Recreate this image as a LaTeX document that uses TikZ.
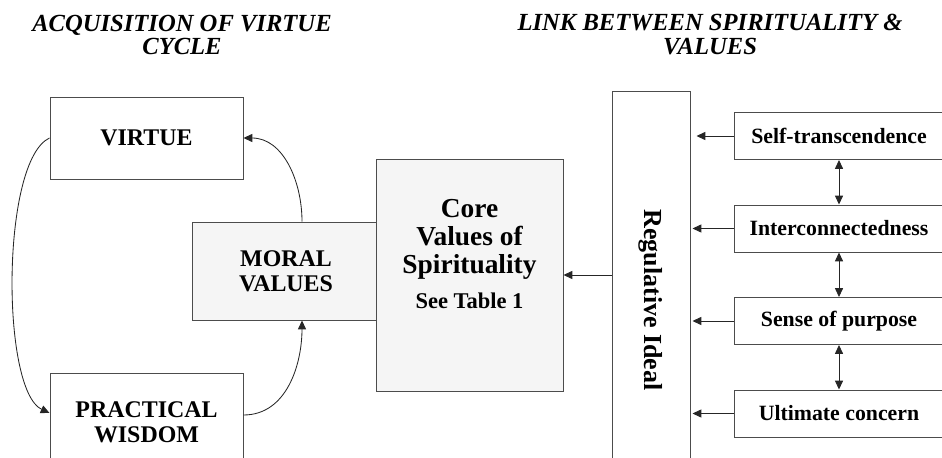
\documentclass[tikz,border=0pt]{standalone}
\usepackage{fontspec}
\usepackage{graphicx}
\setmainfont{Liberation Serif}
\usetikzlibrary{arrows.meta}

\begin{document}
\begin{tikzpicture}[
    box/.style={draw=black!70, line width=0.7pt, rectangle, align=center, inner sep=0pt, font=\fontsize{17}{18}\selectfont\bfseries},
    shaded/.style={box, fill=gray!8},
    factor/.style={box, minimum width=5.25cm, minimum height=1.175cm, font=\fontsize{15.5}{17}\selectfont\bfseries},
    arr/.style={-{Triangle[length=2.2mm,width=2mm]}, line width=0.6pt, black!85},
    biarr/.style={{Triangle[length=2.2mm,width=2mm]}-{Triangle[length=2.2mm,width=2mm]}, line width=0.6pt, black!85},
    heading/.style={align=center, font=\fontsize{17.5}{16.5}\selectfont\bfseries\itshape}
]
    \useasboundingbox (0,0) rectangle (23.55,11.425);

    % Headings
    \node[heading] (head1) at (4.55,10.56) {ACQUISITION OF VIRTUE\\CYCLE};
    \node[heading] (head2) at (17.75,10.56) {LINK BETWEEN SPIRITUALITY \&\\VALUES};

    % Virtue cycle
    \node[box, minimum width=4.825cm, minimum height=2.05cm] (virtue) at (3.6625,7.975) {VIRTUE};
    \node[box, minimum width=4.825cm, minimum height=2.45cm] (wisdom) at (3.6625,0.875) {PRACTICAL\\WISDOM};
    \node[shaded, minimum width=4.7cm, minimum height=2.45cm] (moral) at (7.15,4.65) {MORAL\\VALUES};

    % Core values box, text set towards the top
    \node[shaded, minimum width=4.675cm, minimum height=5.8cm] (core) at (11.7375,4.55) {%
        \parbox[c][5.6cm][t]{4.6cm}{\centering\fontsize{19.5}{20}\selectfont\vspace*{0.9cm}%
        Core\\Values of\\Spirituality\\[5pt]{\fontsize{16}{17}\selectfont See Table 1}}};

    % Regulative ideal column
    \node[box, minimum width=1.95cm, minimum height=10.45cm] (reg) at (16.275,3.925)
        {\rotatebox{-90}{\fontsize{18.5}{20}\selectfont Regulative Ideal}};

    % Factors on the right
    \node[factor] (self) at (20.975,8.025) {Self-transcendence};
    \node[factor] (inter) at (20.975,5.7125) {Interconnectedness};
    \node[factor] (purpose) at (20.975,3.4) {Sense of purpose};
    \node[factor] (ultimate) at (20.975,1.0875) {Ultimate concern};

    % Cycle arrows
    \draw[arr] (virtue.west) to[out=205, in=155, looseness=0.5] (wisdom.west |- 0,1.1);
    \draw[arr] (wisdom.east |- 0,1.05) to[out=0, in=270] ([xshift=0.4cm]moral.south);
    \draw[arr] ([xshift=0.4cm]moral.north) to[out=90, in=0] (virtue.east);

    % Links into the regulative ideal
    \draw[arr] (reg.west |- core.east) -- (core.east);
    \draw[arr] (self.west) -- ([xshift=0.15cm]self.west -| reg.east);
    \draw[arr] (inter.west) -- ([xshift=0.05cm]inter.west -| reg.east);
    \draw[arr] (purpose.west) -- ([xshift=0.05cm]purpose.west -| reg.east);
    \draw[arr] (ultimate.west) -- ([xshift=0.05cm]ultimate.west -| reg.east);

    \draw[biarr] (self) -- (inter);
    \draw[biarr] (inter) -- (purpose);
    \draw[biarr] (purpose) -- (ultimate);

\end{tikzpicture}
\end{document}
